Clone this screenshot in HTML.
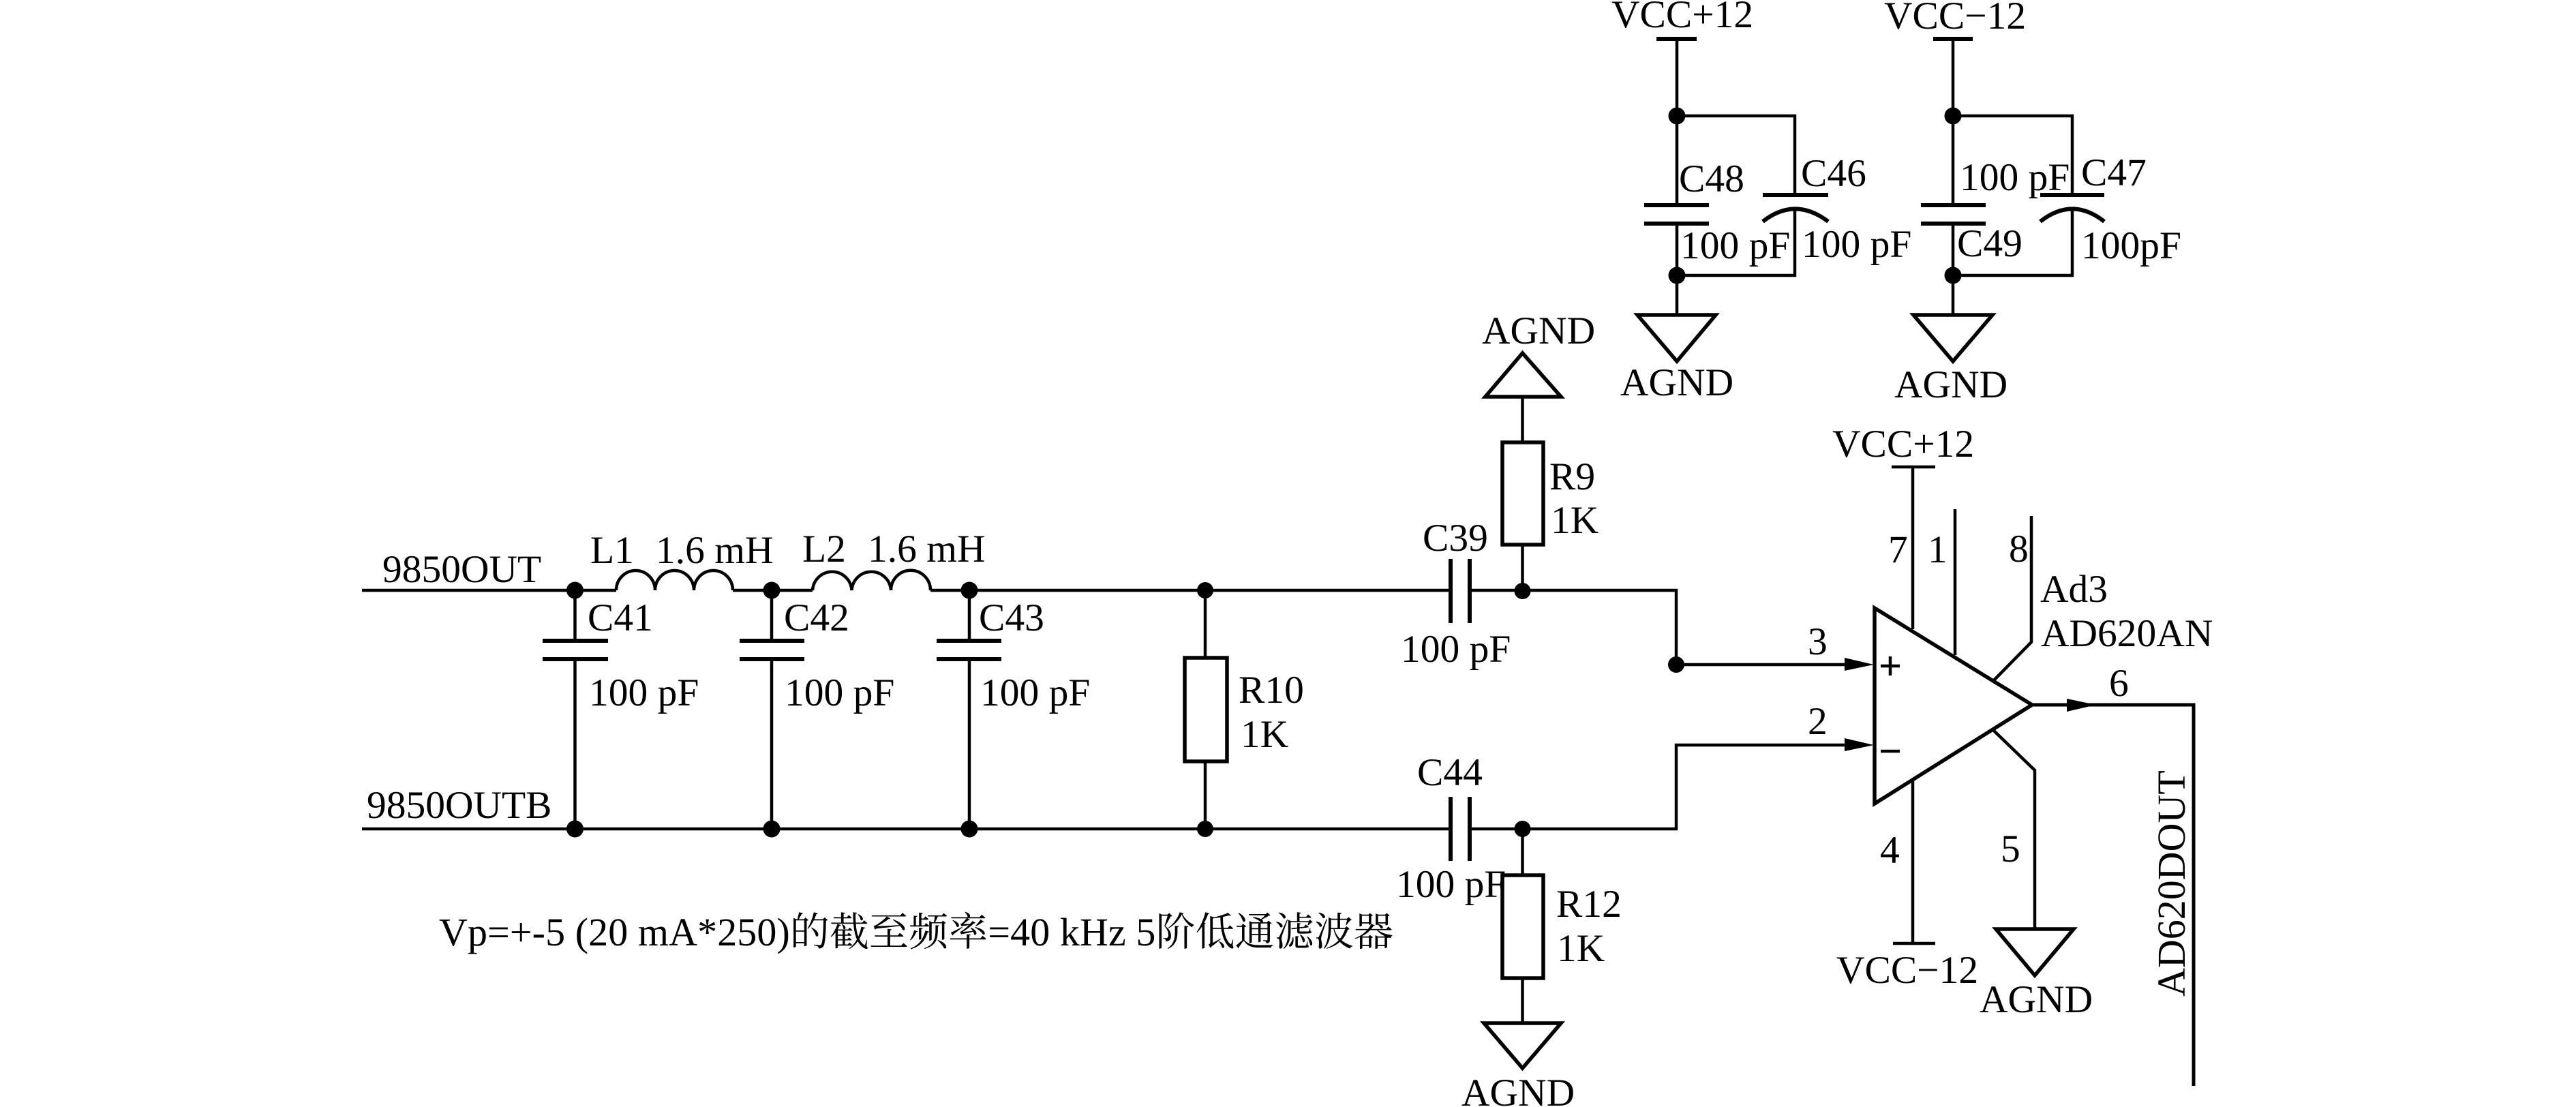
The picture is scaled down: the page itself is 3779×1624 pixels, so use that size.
<!DOCTYPE html>
<html>
<head>
<meta charset="utf-8">
<style>
html,body{margin:0;padding:0;background:#fff;width:3779px;height:1624px;overflow:hidden}
svg{display:block}
text{font-family:"Liberation Serif","Noto Serif CJK SC",serif;font-size:57.5px;fill:#000}
.w{fill:none;stroke:#000;stroke-width:4.5}
.p{fill:none;stroke:#000;stroke-width:6}
.t{fill:#fff;stroke:#000;stroke-width:5.5;stroke-linejoin:miter}
</style>
</head>
<body>
<svg xmlns="http://www.w3.org/2000/svg" width="3779" height="1624" viewBox="0 0 3779 1624">
<rect width="3779" height="1624" fill="#fff"/>

<!-- Filter wires -->
<path class="w" d="M531 866H904M1075 866H1192M1365 866H2128M2156 866H2459V975H2710"/>
<path class="w" d="M531 1216H2128M2156 1216H2459V1093H2710"/>
<path class="w" d="M843.500 866V940M843.500 967V1216M1132 866V940M1132 967V1216M1422 866V940M1422 967V1216"/>
<path class="w" d="M904 866A28.500 29 0 0 1 961 866A28.500 29 0 0 1 1018 866A28.500 29 0 0 1 1075 866"/>
<path class="w" d="M1192 866A28.800 29 0 0 1 1249.500 866A28.800 29 0 0 1 1307 866A28.800 29 0 0 1 1365 866"/>
<path class="p" d="M796 940H892M796 967H892M1085 940H1180M1085 967H1180M1374 940H1469M1374 967H1469"/>

<!-- R10 -->
<path class="w" d="M1768 866V965M1768 1117V1216"/>
<rect x="1738" y="965" width="62" height="152" class="t"/>

<!-- Series capacitors -->
<path class="p" d="M2128 820V914M2156 820V914M2128 1169V1263M2156 1169V1263"/>

<!-- R9 + AGND -->
<path class="w" d="M2233.500 582V649M2233.500 799V866"/>
<rect x="2204" y="649" width="60" height="150" class="t"/>
<polygon class="t" points="2233.500,518 2179,582 2290,582"/>

<!-- R12 + AGND -->
<path class="w" d="M2233.500 1216V1284M2233.500 1435V1501"/>
<rect x="2204" y="1284" width="60" height="151" class="t"/>
<polygon class="t" points="2177,1501 2290,1501 2233.500,1567"/>

<!-- Decoupling left -->
<path class="w" d="M2460 57V301M2460 328V462M2460 170H2633V286M2633 308V404H2460"/>
<path class="p" d="M2430 57H2489M2412 301H2507M2412 328H2507M2586 286H2682"/>
<path class="p" d="M2586 325Q2633 288 2682 325"/>
<polygon class="t" points="2402,462 2517,462 2460,530"/>

<!-- Decoupling right -->
<path class="w" d="M2865 57V301M2865 328V462M2865 170H3040V286M3040 308V404H2865"/>
<path class="p" d="M2836 57H2894M2818 301H2913M2818 328H2913M2993 286H3087"/>
<path class="p" d="M2993 325Q3040 288 3087 325"/>
<polygon class="t" points="2807,462 2923,462 2865,530"/>

<!-- Op amp -->
<path class="w" d="M2806 685V923M2868 747V961M2925 998L2980 942V757M2806 1145V1384M2925 1072L2985 1130V1363"/>
<path class="w" d="M2775 685H2839M2777 1384H2839"/>
<polygon class="t" points="2750,892 2750,1179 2981,1034"/>
<path class="w" d="M2981 1034H3218V1593" style="stroke-width:5"/>
<polygon points="2706,965 2749,975 2706,984" fill="#000"/>
<polygon points="2706,1083 2749,1093 2706,1102" fill="#000"/>
<polygon points="3032,1025 3075,1034 3032,1044" fill="#000"/>
<path class="w" d="M2759 977H2787M2773 963V991M2759 1102H2787"/>
<polygon class="t" points="2928,1363 3042,1363 2985,1431"/>

<!-- Junction dots -->
<g fill="#000">
<circle cx="843.500" cy="866" r="12.500"/><circle cx="1132" cy="866" r="12.500"/><circle cx="1422" cy="866" r="12.500"/>
<circle cx="843.500" cy="1216" r="12.500"/><circle cx="1132" cy="1216" r="12.500"/><circle cx="1422" cy="1216" r="12.500"/>
<circle cx="1768" cy="866" r="12"/><circle cx="1768" cy="1216" r="12"/>
<circle cx="2233.500" cy="867" r="12"/><circle cx="2233.500" cy="1216" r="12"/>
<circle cx="2459" cy="975" r="12"/>
<circle cx="2460" cy="170" r="12.500"/><circle cx="2460" cy="404" r="12.500"/>
<circle cx="2865" cy="170" r="12.500"/><circle cx="2865" cy="404" r="12.500"/>
</g>

<!-- Labels -->
<text x="2364" y="40">VCC+12</text>
<text x="2764" y="42">VCC−12</text>
<text x="2463" y="281">C48</text>
<text x="2642" y="273">C46</text>
<text x="2465" y="379">100 pF</text>
<text x="2643" y="377">100 pF</text>
<text x="2875" y="279">100 pF</text>
<text x="3053" y="272">C47</text>
<text x="2871" y="376">C49</text>
<text x="3053" y="379">100pF</text>
<text x="2377" y="580">AGND</text>
<text x="2779" y="583">AGND</text>
<text x="2174" y="504">AGND</text>
<text x="2144" y="1622">AGND</text>
<text x="2904" y="1485">AGND</text>

<text x="561" y="854">9850OUT</text>
<text x="538" y="1200">9850OUTB</text>
<text x="866" y="826">L1</text>
<text x="962" y="826">1.6 mH</text>
<text x="1177" y="824">L2</text>
<text x="1273" y="824">1.6 mH</text>
<text x="862" y="925">C41</text>
<text x="1150" y="925">C42</text>
<text x="1436" y="925">C43</text>
<text x="864" y="1035">100 pF</text>
<text x="1151" y="1035">100 pF</text>
<text x="1438" y="1035">100 pF</text>

<text x="1817" y="1031">R10</text>
<text x="1820" y="1096">1K</text>
<text x="2273" y="718">R9</text>
<text x="2275" y="782">1K</text>
<text x="2283" y="1345">R12</text>
<text x="2284" y="1410">1K</text>
<text x="2087" y="808">C39</text>
<text x="2055" y="971">100 pF</text>
<text x="2079" y="1152">C44</text>
<text x="2048" y="1316">100 pF</text>

<text x="2652" y="960">3</text>
<text x="2652" y="1077">2</text>
<text x="2770" y="825">7</text>
<text x="2828" y="825">1</text>
<text x="2947" y="824">8</text>
<text x="2758" y="1266">4</text>
<text x="2935" y="1264">5</text>
<text x="3094" y="1021">6</text>
<text x="2993" y="883">Ad3</text>
<text x="2994" y="948">AD620AN</text>
<text x="2688" y="670">VCC+12</text>
<text x="2694" y="1442">VCC−12</text>
<text transform="translate(3205 1462) rotate(-90)" style="font-size:58px">AD620DOUT</text>

<text x="644" y="1387" textLength="1400" lengthAdjust="spacing" style="font-size:58px">Vp=+-5 (20 mA*250)的截至频率=40 kHz 5阶低通滤波器</text>
</svg>
</body>
</html>
